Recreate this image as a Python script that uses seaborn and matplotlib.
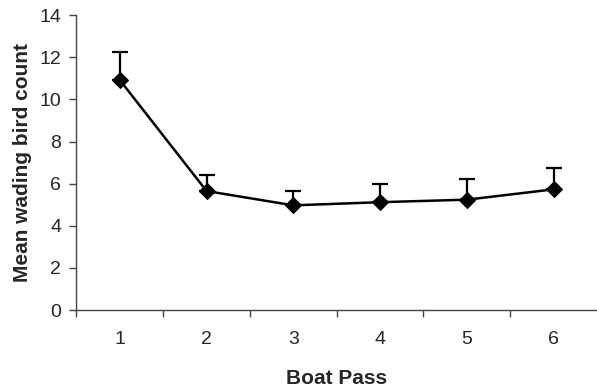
import numpy as np
import pandas as pd
import matplotlib
matplotlib.use("Agg")
import matplotlib.pyplot as plt
import seaborn as sns

# values
boat_pass = [1, 2, 3, 4, 5, 6]
mean_count = [10.92, 5.65, 4.97, 5.12, 5.24, 5.73]
err_upper = [1.34, 0.78, 0.70, 0.86, 0.96, 0.99]

sns.set_style("white")
plt.rcParams["font.family"] = ["Liberation Sans", "DejaVu Sans"]

df = pd.DataFrame({"pass": boat_pass, "count": mean_count})

fig = plt.figure(figsize=(5.97, 3.89), dpi=100)
ax = fig.add_axes([0.128, 0.203, 0.872, 0.758])

# upper-only error bars with caps
ax.errorbar(df["pass"], df["count"], yerr=[np.zeros(len(err_upper)), err_upper],
            fmt="none", ecolor="black", elinewidth=1.6, capsize=6, capthick=1.6,
            zorder=2)
sns.lineplot(data=df, x="pass", y="count", color="black", linewidth=1.8,
             marker="D", markersize=8, markeredgecolor="black", ax=ax, zorder=3)

ax.set_xlim(0.5, 6.5)
ax.set_ylim(0, 14)
ax.set_yticks(np.arange(0, 15, 2))
# ticks sit between categories, labels sit under them
ax.set_xticks(np.arange(0.5, 6.0, 1.0))
ax.set_xticklabels([])
ax.set_xticks(boat_pass, minor=True)
ax.set_xticklabels([str(b) for b in boat_pass], minor=True)
ax.tick_params(axis="x", which="major", direction="out", length=5, width=1,
               color="#444444", bottom=True)
ax.tick_params(axis="x", which="minor", length=0, pad=15, labelsize=14)
ax.tick_params(axis="y", direction="out", length=5, width=1, color="#444444",
               left=True, labelsize=14, pad=6)

for side in ["top", "right"]:
    ax.spines[side].set_visible(False)
for side in ["left", "bottom"]:
    ax.spines[side].set_color("#444444")
    ax.spines[side].set_linewidth(1)

ax.set_xlabel("Boat Pass", fontsize=15, fontweight="bold", labelpad=15)
ax.set_ylabel("Mean wading bird count", fontsize=15, fontweight="bold", labelpad=5)

fig.savefig("out.png", dpi=100)
